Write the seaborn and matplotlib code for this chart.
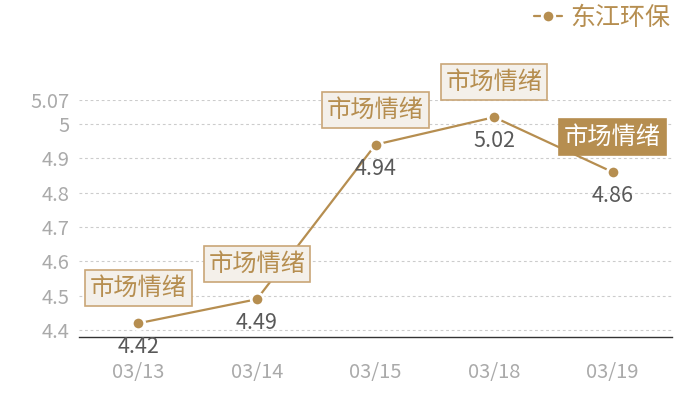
import matplotlib
matplotlib.use("Agg")
import matplotlib.pyplot as plt
import seaborn as sns
import pandas as pd

dates = ["03/13", "03/14", "03/15", "03/18", "03/19"]
values = [4.42, 4.49, 4.94, 5.02, 4.86]
series_name = "东江环保"
tag_text = "市场情绪"
yticks = [4.4, 4.5, 4.6, 4.7, 4.8, 4.9, 5.0, 5.07]
ytick_labels = ["4.4", "4.5", "4.6", "4.7", "4.8", "4.9", "5", "5.07"]

sns.set_theme(style="white")
plt.rcParams["font.family"] = ["Noto Sans CJK SC", "DejaVu Sans"]

gold = "#b68e50"
light_fill = "#f4f0ea"
light_edge = "#c9a677"

df = pd.DataFrame({"date": dates, "value": values, "series": series_name})

fig = plt.figure(figsize=(7, 4), dpi=100)
ax = fig.add_axes([79 / 700, 1 - 337 / 400, (672 - 79) / 700, 237 / 400])

sns.lineplot(data=df, x="date", y="value", hue="series", palette=[gold],
             marker="o", markersize=9, markeredgecolor="white",
             markeredgewidth=2, linewidth=1.6, ax=ax, sort=False)

ax.set_xlim(-0.5, len(dates) - 0.5)
ax.set_ylim(4.38, 5.07)
ax.set_yticks(yticks)
ax.set_yticklabels(ytick_labels)
ax.set_xlabel("")
ax.set_ylabel("")
ax.tick_params(axis="y", colors="#aaaaaa", labelsize=14.5, length=0, pad=7)
ax.tick_params(axis="x", colors="#aaaaaa", labelsize=14.5, length=0, pad=18)
ax.yaxis.grid(True, linestyle=(0, (2.5, 2.5)), color="#cccccc", linewidth=0.8)
ax.xaxis.grid(False)
for s in ["top", "right", "left"]:
    ax.spines[s].set_visible(False)
ax.spines["bottom"].set_color("#333333")
ax.spines["bottom"].set_linewidth(1)

for i, v in enumerate(values):
    ax.annotate(f"{v:.2f}", (i, v), xytext=(0, -24), textcoords="offset pixels",
                ha="center", va="center", fontsize=15.5, color="#595959")
    last = i == len(values) - 1
    ax.annotate(tag_text, (i, v), xytext=(0, 35), textcoords="offset pixels",
                ha="center", va="center", fontsize=17.5,
                color="white" if last else gold,
                bbox=dict(boxstyle="square,pad=0.2",
                          fc=gold if last else light_fill,
                          ec=gold if last else light_edge, lw=1.2))

leg = ax.legend(loc="upper right", bbox_to_anchor=(693 / 700, 1.045),
                bbox_transform=fig.transFigure, frameon=False,
                fontsize=18, handlelength=1.1, handletextpad=0.35,
                labelcolor=gold)

fig.savefig("out.png", dpi=100)
